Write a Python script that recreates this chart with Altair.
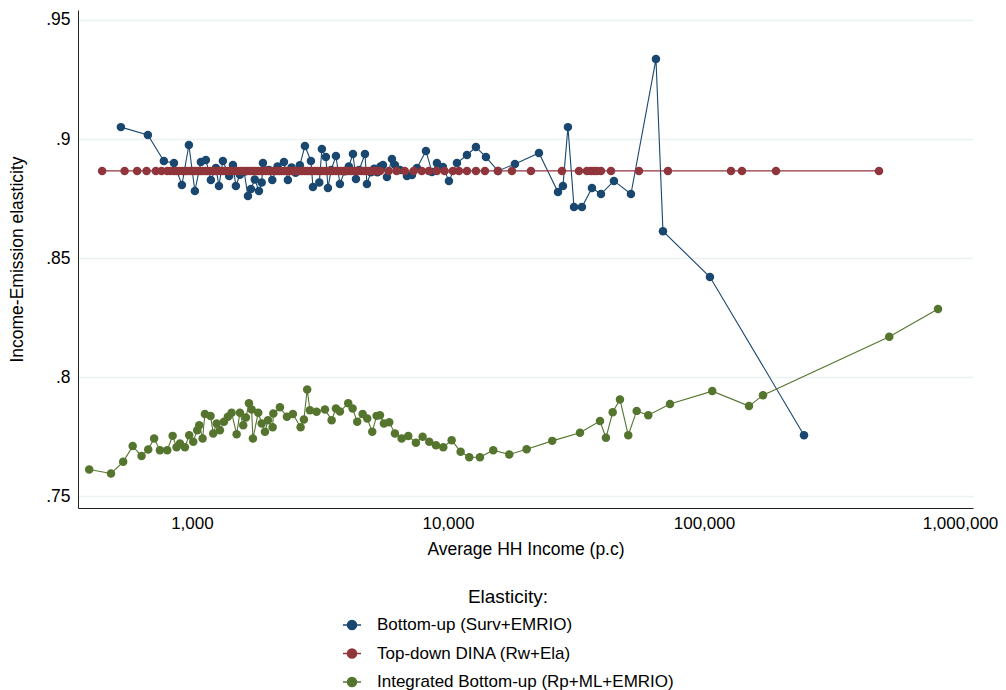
import altair as alt
import pandas as pd

FONT = "Liberation Sans"
SERIES = ["Bottom-up (Surv+EMRIO)", "Top-down DINA (Rw+Ela)", "Integrated Bottom-up (Rp+ML+EMRIO)"]
COLORS = ["#1a476f", "#90353b", "#55752f"]

x_ticks = [1000, 10000, 100000, 1000000]
y_ticks = [0.75, 0.8, 0.85, 0.9, 0.95]

# Bottom-up (Surv+EMRIO)
blue_x = [528, 673, 777, 851, 914, 973, 1027, 1084, 1134, 1186, 1241, 1275, 1321, 1398, 1446,
          1485, 1540, 1600, 1655, 1700, 1760, 1827, 1873, 1894, 2000, 2060, 2160, 2288, 2371,
          2450, 2540, 2640, 2763, 2917, 2970, 3144, 3219, 3337, 3398, 3500, 3652, 3785, 3950,
          4100, 4256, 4372, 4500, 4741, 4827, 5000, 5150, 5300, 5450, 5574, 5777, 6043, 6209,
          6500, 6918, 7236, 7567, 8206, 8660, 9057, 9560, 10090, 10844, 11866, 12866, 14075,
          15677, 18271, 22675, 26903, 28130, 29427, 31070, 33373, 36517, 39605, 44500, 51857,
          64938, 69160, 105540, 245900]
blue_y = [0.9050, 0.9017, 0.8908, 0.8899, 0.8807, 0.8975, 0.8782, 0.8903, 0.8912, 0.8828, 0.8878,
          0.8803, 0.8908, 0.8845, 0.8891, 0.8803, 0.8850, 0.8862, 0.8761, 0.8790, 0.8830, 0.8782,
          0.8817, 0.8899, 0.8870, 0.8828, 0.8885, 0.8903, 0.8828, 0.8880, 0.8858, 0.8890, 0.8971,
          0.8908, 0.8798, 0.8817, 0.8958, 0.8924, 0.8794, 0.8870, 0.8929, 0.8811, 0.8865, 0.8885,
          0.8937, 0.8832, 0.8870, 0.8937, 0.8811, 0.8860, 0.8875, 0.8860, 0.8885, 0.8891, 0.8840,
          0.8916, 0.8891, 0.8870, 0.8845, 0.8849, 0.8878, 0.8950, 0.8861, 0.8899, 0.8882, 0.8824,
          0.8899, 0.8933, 0.8966, 0.8924, 0.8866, 0.8895, 0.8941, 0.8777, 0.8803, 0.9050, 0.8714,
          0.8714, 0.8794, 0.8769, 0.8824, 0.8769, 0.9336, 0.8613, 0.8420, 0.7756]

# Top-down DINA (Rw+Ela): one elasticity for every income group
red_x = [446, 546, 611, 665, 723, 761, 801, 826, 851, 870, 893, 918, 940, 958, 983, 1004, 1029,
         1051, 1077, 1100, 1127, 1150, 1178, 1205, 1232, 1258, 1290, 1318, 1349, 1377, 1410, 1441,
         1476, 1508, 1545, 1579, 1618, 1652, 1693, 1731, 1772, 1815, 1856, 1901, 1944, 1992, 2037,
         2088, 2134, 2187, 2236, 2291, 2343, 2400, 2455, 2514, 2571, 2634, 2693, 2758, 2821, 2889,
         2954, 3026, 3094, 3170, 3240, 3320, 3395, 3478, 3556, 3643, 3725, 3816, 3902, 3998, 4088,
         4188, 4282, 4387, 4486, 4596, 4700, 4815, 4923, 5045, 5160, 5290, 5430, 5870, 6300, 6780,
         7350, 7900, 8420, 9050, 9700, 10450, 11040, 11866, 12866, 13948, 15677, 17783, 21098,
         27876, 32494, 34914, 36190, 37180, 38196, 39605, 43330, 55720, 72340, 127500, 140700,
         191100, 482600]
red_value = 0.8866

# Integrated Bottom-up (Rp+ML+EMRIO)
green_x = [397, 483, 539, 587, 636, 675, 712, 750, 801, 841, 871, 898, 939, 976, 1012, 1049, 1068,
           1101, 1124, 1183, 1211, 1249, 1286, 1334, 1382, 1429, 1495, 1540, 1586, 1625, 1670, 1711,
           1731, 1816, 1873, 1929, 1982, 2067, 2080, 2207, 2350, 2480, 2658, 2738, 2820, 2890, 3069,
           3308, 3513, 3652, 3785, 4078, 4243, 4422, 4643, 4840, 5062, 5266, 5425, 5623, 5898, 6209,
           6594, 6998, 7499, 7963, 8453, 8978, 9586, 10340, 11210, 12113, 13335, 15031, 17360, 20295,
           25550, 32785, 39250, 41410, 44000, 46970, 50610, 54600, 60590, 73660, 107750, 149900,
           170100, 529300, 820700]
green_y = [0.7612, 0.7595, 0.7644, 0.7710, 0.7668, 0.7696, 0.7742, 0.7693, 0.7693, 0.7753, 0.7705,
           0.7721, 0.7705, 0.7756, 0.7728, 0.7777, 0.7798, 0.7742, 0.7845, 0.7836, 0.7763, 0.7805,
           0.7777, 0.7812, 0.7833, 0.7850, 0.7760, 0.7850, 0.7798, 0.7830, 0.7890, 0.7864, 0.7742,
           0.7850, 0.7805, 0.7770, 0.7819, 0.7789, 0.7847, 0.7873, 0.7833, 0.7845, 0.7789, 0.7822,
           0.7948, 0.7861, 0.7854, 0.7864, 0.7819, 0.7868, 0.7855, 0.7890, 0.7868, 0.7812, 0.7845,
           0.7826, 0.7770, 0.7837, 0.7840, 0.7805, 0.7810, 0.7763, 0.7742, 0.7752, 0.7724, 0.7749,
           0.7728, 0.7714, 0.7705, 0.7735, 0.7686, 0.7663, 0.7663, 0.7693, 0.7675, 0.7697, 0.7732,
           0.7766, 0.7815, 0.7745, 0.7852, 0.7906, 0.7756, 0.7858, 0.7840, 0.7887, 0.7941, 0.7878,
           0.7924, 0.8169, 0.8286]

rows = []
for x, y in zip(blue_x, blue_y):
    rows.append({"income": x, "elasticity": y, "series": SERIES[0], "k": 0})
for x in red_x:
    rows.append({"income": x, "elasticity": red_value, "series": SERIES[1], "k": 1})
for x, y in zip(green_x, green_y):
    rows.append({"income": x, "elasticity": y, "series": SERIES[2], "k": 2})
df = pd.DataFrame(rows)

SYMBOL = "M-1,0H1M0.5,0A0.5,0.5,0,1,1,-0.5,0A0.5,0.5,0,1,1,0.5,0Z"

legend = alt.Legend(
    title="Elasticity:", orient="none", legendX=264, legendY=578, direction="vertical",
    titleAnchor="middle", titleFont=FONT, titleFontSize=19, titleFontWeight="normal",
    titleColor="#000000", titlePadding=8,
    labelFont=FONT, labelFontSize=17, labelColor="#000000", labelOffset=15, labelLimit=500,
    rowPadding=10.5, symbolType=SYMBOL, symbolSize=324, symbolStrokeWidth=1.5, padding=0,
    symbolOpacity=1,
)

x_enc = alt.X("income:Q",
    scale=alt.Scale(type="log", domain=[359, 1124000], nice=False),
    axis=alt.Axis(values=x_ticks, format=",", grid=False, ticks=False, labelFlush=False,
                  domainColor="#222222", domainWidth=1, labelFont=FONT, labelFontSize=17,
                  labelColor="#000000", labelPadding=7, labelOverlap=False,
                  title="Average HH Income (p.c)", titleFont=FONT, titleFontSize=17.5,
                  titleFontWeight="normal", titleColor="#000000", titlePadding=9))
y_enc = alt.Y("elasticity:Q",
    scale=alt.Scale(domain=[0.745, 0.9542], nice=False, zero=False),
    axis=alt.Axis(values=y_ticks, labelExpr="substring(format(datum.value, '.2~f'), 1)",
                  grid=True, gridColor="#eaf2f3", gridWidth=1.5, ticks=False, labelFlush=False,
                  domainColor="#222222", domainWidth=1, labelFont=FONT, labelFontSize=17.5,
                  labelColor="#000000", labelPadding=8,
                  title="Income-Emission elasticity", titleFont=FONT, titleFontSize=17.5,
                  titleFontWeight="normal", titleColor="#000000", titleX=-52, titleY=249))
color_enc = alt.Color("series:N", scale=alt.Scale(domain=SERIES, range=COLORS), legend=legend)

base = alt.Chart(df).encode(x=x_enc, y=y_enc, color=color_enc)
lines = base.mark_line(strokeWidth=1.1, clip=True).encode(order=alt.Order("income:Q"))
points = base.mark_circle(size=72, opacity=1, clip=True).encode(order=alt.Order("k:Q"))

chart = alt.layer(lines, points).properties(
    width=895, height=498,
    autosize=alt.AutoSizeParams(type="none"),
    padding={"left": 70, "top": 2, "right": 25, "bottom": 190},
    background="white",
).configure_view(stroke=None)

chart.save("out.html", embed_options={"renderer": "svg", "actions": False})
